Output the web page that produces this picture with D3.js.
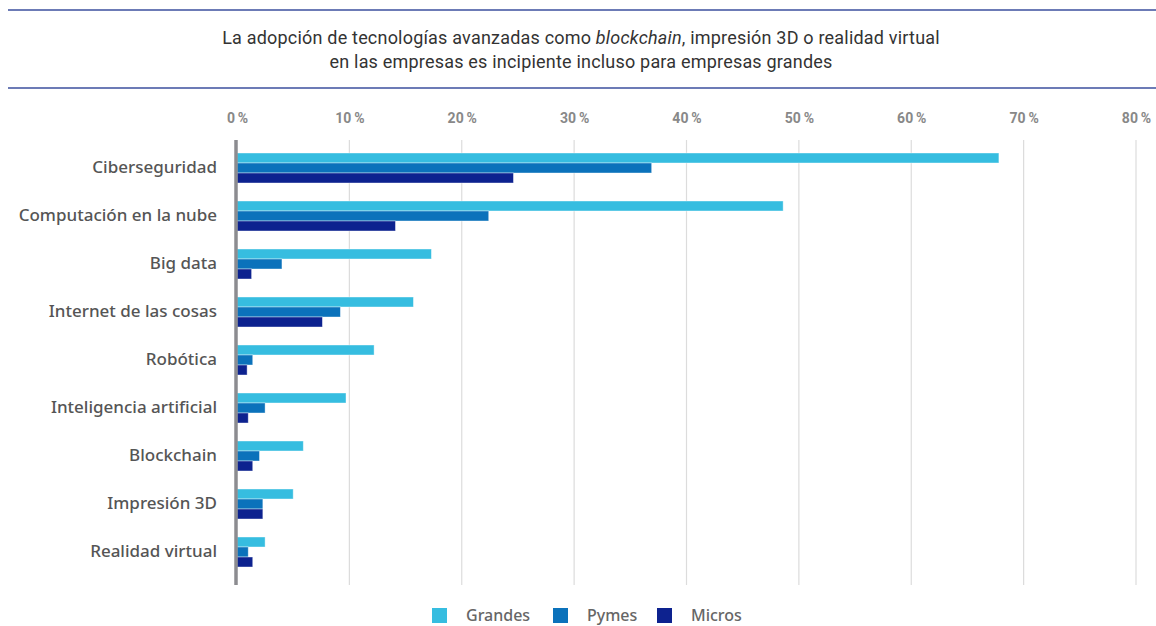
<!DOCTYPE html>
<html>
<head>
<meta charset="utf-8">
<script src="https://cdn.jsdelivr.net/npm/d3@7"></script>
<style>
  body { margin: 0; background: #fff; }
  svg { display: block; }
</style>
</head>
<body>
<svg id="chart" width="1156" height="626"></svg>
<script>
var categories = ["Ciberseguridad", "Computación en la nube", "Big data", "Internet de las cosas",
  "Robótica", "Inteligencia artificial", "Blockchain", "Impresión 3D", "Realidad virtual"];
var seriesNames = ["Grandes", "Pymes", "Micros"];
var grandes = [67.8, 48.6, 17.3, 15.7, 12.2, 9.7, 5.9, 5.0, 2.5];
var pymes   = [36.9, 22.4, 4.0, 9.2, 1.4, 2.5, 2.0, 2.3, 1.0];
var micros  = [24.6, 14.1, 1.3, 7.6, 0.9, 1.0, 1.4, 2.3, 1.4];
var xTicks = [0, 10, 20, 30, 40, 50, 60, 70, 80];
var colors = ["#36bde0", "#0b72bb", "#0d228f"];

var svg = d3.select("#chart");

// title block
svg.append("line").attr("x1", 8).attr("x2", 1156).attr("y1", 10).attr("y2", 10)
  .attr("stroke", "#3b4f9e").attr("stroke-width", 1.5);
svg.append("line").attr("x1", 8).attr("x2", 1156).attr("y1", 88).attr("y2", 88)
  .attr("stroke", "#3b4f9e").attr("stroke-width", 1.5);

var title = svg.append("text")
  .attr("x", 581).attr("y", 44)
  .attr("text-anchor", "middle")
  .style("font-family", "Roboto, sans-serif")
  .style("font-size", "18px")
  .style("letter-spacing", "0.2px")
  .style("fill", "#333");
title.append("tspan").text("La adopción de tecnologías avanzadas como ");
title.append("tspan").style("font-style", "italic").text("blockchain");
title.append("tspan").text(", impresión 3D o realidad virtual");
svg.append("text")
  .attr("x", 581).attr("y", 68)
  .attr("text-anchor", "middle")
  .style("font-family", "Roboto, sans-serif")
  .style("font-size", "18px")
  .style("letter-spacing", "0.2px")
  .style("fill", "#333")
  .text("en las empresas es incipiente incluso para empresas grandes");

// scales
var x = d3.scaleLinear().domain([0, 80]).range([237, 1136]);
var y = d3.scaleBand().domain(categories).range([144, 576])
  .paddingInner(0.375).paddingOuter(0.1875);
var ySub = d3.scaleBand().domain(seriesNames).range([0, y.bandwidth()]);

// grid
svg.append("g").selectAll("line")
  .data(xTicks.slice(1))
  .enter().append("line")
  .attr("x1", function(d) { return x(d); })
  .attr("x2", function(d) { return x(d); })
  .attr("y1", 140).attr("y2", 585)
  .attr("stroke", "#dcdcdc").attr("stroke-width", 1.2);

// top axis
var xAxis = d3.axisTop(x).tickValues(xTicks).tickSize(0)
  .tickFormat(function(d) { return d + "\u2009%"; });
var gx = svg.append("g").attr("transform", "translate(0,126)").call(xAxis);
gx.select(".domain").remove();
gx.selectAll("text")
  .style("font-family", "Roboto, sans-serif")
  .style("font-weight", "bold")
  .style("font-size", "14px")
  .style("fill", "#888");

// bars
var rows = categories.map(function(c, i) {
  return { cat: c, vals: [grandes[i], pymes[i], micros[i]] };
});
var group = svg.append("g").selectAll("g")
  .data(rows)
  .enter().append("g")
  .attr("transform", function(d) { return "translate(0," + y(d.cat) + ")"; });
group.selectAll("rect")
  .data(function(d) { return d.vals.map(function(v, j) { return { name: seriesNames[j], v: v, j: j }; }); })
  .enter().append("rect")
  .attr("x", x(0))
  .attr("y", function(d) { return ySub(d.name); })
  .attr("width", function(d) { return x(d.v) - x(0); })
  .attr("height", ySub.bandwidth())
  .attr("fill", function(d) { return colors[d.j]; })
  .attr("stroke", "rgba(255,255,255,0.5)")
  .attr("stroke-width", 0.8);

// y axis line + labels
svg.append("line").attr("x1", 236).attr("x2", 236).attr("y1", 140).attr("y2", 585)
  .attr("stroke", "#8c8c90").attr("stroke-width", 3.5);
var yAxis = d3.axisLeft(y).tickSize(0).tickPadding(0);
var gy = svg.append("g").attr("transform", "translate(217,0)").call(yAxis);
gy.select(".domain").remove();
gy.selectAll("text")
  .style("font-family", "'Noto Sans', sans-serif")
  .style("font-weight", "500")
  .style("font-size", "17px")
  .style("fill", "#555");

// legend
var legendX = [432, 553, 657];
var legend = svg.append("g").selectAll("g")
  .data(seriesNames)
  .enter().append("g")
  .attr("transform", function(d, i) { return "translate(" + legendX[i] + ",608)"; });
legend.append("rect").attr("width", 15).attr("height", 15)
  .attr("fill", function(d, i) { return colors[i]; });
legend.append("text").attr("x", 34).attr("y", 13)
  .style("font-family", "'Noto Sans', sans-serif")
  .style("font-weight", "500")
  .style("font-size", "16px")
  .style("fill", "#666")
  .text(function(d) { return d; });
</script>
</body>
</html>
